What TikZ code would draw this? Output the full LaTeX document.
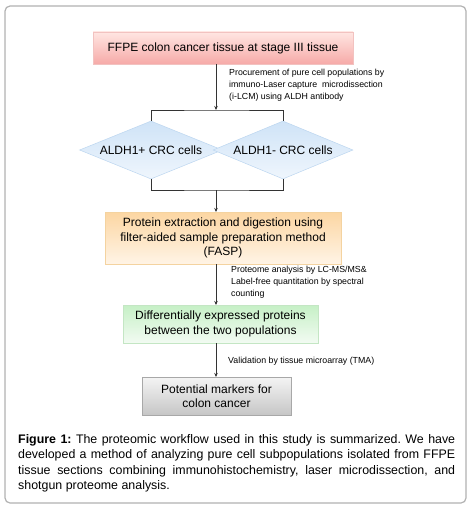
\documentclass[tikz,border=0pt]{standalone}
\usepackage{fontspec}
\setmainfont{Liberation Sans}
\usetikzlibrary{shapes.geometric,arrows.meta}
\frenchspacing
\definecolor{pinkT}{HTML}{FFE6E2}
\definecolor{pinkB}{HTML}{F6AAA8}
\definecolor{pinkD}{HTML}{F2C2C0}
\definecolor{blueT}{HTML}{CFE3F7}
\definecolor{blueB}{HTML}{EFF6FD}
\definecolor{blueD}{HTML}{BCD6F0}
\definecolor{orT}{HTML}{FCD6A2}
\definecolor{orB}{HTML}{FFF4E6}
\definecolor{orD}{HTML}{F4D3A0}
\definecolor{grT}{HTML}{C6F0C6}
\definecolor{grB}{HTML}{F2FBF2}
\definecolor{grD}{HTML}{C4E6C4}
\definecolor{gyT}{HTML}{F4F4F4}
\definecolor{gyB}{HTML}{C6C6C6}
\definecolor{gyD}{HTML}{A8A8A8}
\begin{document}
\begin{tikzpicture}[x=1pt,y=-1pt,
  box/.style={draw, rectangle, inner sep=0pt, align=center, font=\fontsize{12}{14.5}\selectfont, line width=0.5pt},
  dia/.style={draw=blueD, shape=diamond, aspect=4.6, inner sep=0pt, minimum width=128pt, minimum height=58pt, top color=blueT, bottom color=blueB, font=\fontsize{12}{14}\selectfont, line width=0.5pt},
  lbl/.style={anchor=north west, align=left, inner sep=0pt, font=\fontsize{8.8}{12}\selectfont},
  conn/.style={draw=black!80, line width=0.7pt},
  arr/.style={conn, -{Stealth[length=4pt,width=3.5pt]}}
]
\useasboundingbox (0,0) rectangle (471,511);
\draw[black!30, line width=1.2pt, rounded corners=5pt, fill=white] (5,6) rectangle (466,503);

\node[box, draw=pinkD, top color=pinkT, bottom color=pinkB, minimum width=260pt, minimum height=32pt] (ffpe) at (223,48) {FFPE colon cancer tissue at stage III tissue};

\node[dia] (d1) at (151,150) {ALDH1+ CRC cells};
\node[dia] (d2) at (283,150) {ALDH1- CRC cells};

\node[box, draw=orD, top color=orT, bottom color=orB, minimum width=236pt, minimum height=52pt] (fasp) at (223,238) {Protein extraction and digestion using\\filter-aided sample preparation method\\(FASP)};

\node[box, draw=grD, top color=grT, bottom color=grB, minimum width=195pt, minimum height=38pt] (diff) at (220.5,324) {Differentially expressed proteins\\between the two populations};

\node[box, draw=gyD, top color=gyT, bottom color=gyB, minimum width=149pt, minimum height=38pt] (pot) at (216.5,396) {Potential markers for\\colon cancer};

\coordinate (j1) at (216,110);
\coordinate (j2) at (216,190);
\coordinate (ffpeb) at (216,64);

\draw[arr] (ffpeb) -- (j1);
\draw[conn] (d1.north) |- (j1) -| (d2.north);
\draw[conn] (d1.south) |- (j2) -| (d2.south);
\draw[arr] (j2) -- (216,212);

\draw[arr] (216,264) -- (216,305);
\draw[arr] (216,343) -- (216,377);

\node[lbl] (l1) at (229,69) {Procurement of pure cell populations by\\immuno-Laser capture\ \ microdissection\\(i-LCM) using ALDH antibody};
\node[lbl] (l2) at (231,266) {Proteome analysis by LC-MS/MS\&\\Label-free quantitation by spectral\\counting};
\node[lbl] (l3) at (228,357) {Validation by tissue microarray (TMA)};

\node[anchor=north west, inner sep=0pt, text width=437pt, align=justify, font=\fontsize{12.4}{15.5}\selectfont] (cap) at (18,434) {\hyphenpenalty=10000\exhyphenpenalty=10000\textbf{Figure 1:} The proteomic workflow used in this study is summarized. We have\linebreak developed a method of analyzing pure cell subpopulations isolated from FFPE\linebreak tissue sections combining immunohistochemistry, laser microdissection, and\linebreak shotgun proteome analysis.};
\end{tikzpicture}
\end{document}
